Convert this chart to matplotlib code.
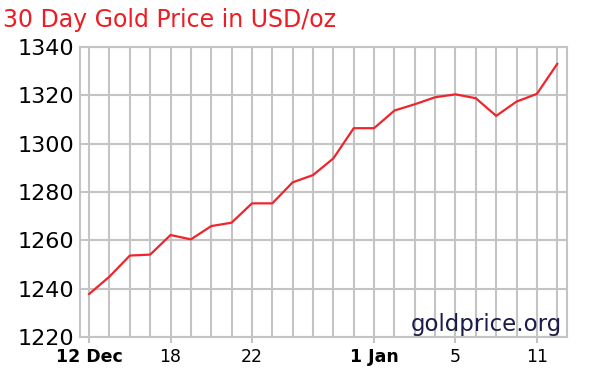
import matplotlib
matplotlib.use("Agg")
import matplotlib.pyplot as plt

# daily closing price, one point per trading day
prices = [1237.8, 1245.0, 1253.7, 1254.1, 1262.2, 1260.4, 1265.9, 1267.3,
          1275.3, 1275.3, 1284.0, 1287.0, 1293.9, 1306.4, 1306.4, 1313.7,
          1316.3, 1319.2, 1320.4, 1318.8, 1311.5, 1317.4, 1320.6, 1333.0]
label_idx = [0, 4, 8, 14, 18, 22]
label_txt = ["12 Dec", "18", "22", "1 Jan", "5", "11"]
bold_labels = ["12 Dec", "1 Jan"]
y_ticks = [1220, 1240, 1260, 1280, 1300, 1320, 1340]

fig = plt.figure(figsize=(6, 3.75), dpi=100)
ax = fig.add_axes([0.1333, 0.1013, 0.8117, 0.7734])

days = list(range(len(prices)))
grid_c = "#c4c4c4"

ax.set_xticks(days, minor=True)
ax.set_xticks(label_idx)
ax.set_xticklabels(label_txt, fontsize=12.5)
for t in ax.get_xticklabels():
    if t.get_text() in bold_labels:
        t.set_fontweight("bold")
ax.set_yticks(y_ticks)
ax.set_yticklabels([str(v) for v in y_ticks], fontsize=16)

ax.grid(True, which="both", axis="x", color=grid_c, linewidth=1.5)
ax.grid(True, which="major", axis="y", color=grid_c, linewidth=1.5)
ax.set_axisbelow(True)
ax.tick_params(axis="x", which="minor", length=0)
ax.tick_params(axis="x", which="major", length=4, color=grid_c, width=1.5, pad=4)
ax.tick_params(axis="y", length=0, pad=4)
for s in ax.spines.values():
    s.set_color(grid_c)
    s.set_linewidth(1.5)

ax.plot(days, prices, color="#f0242c", linewidth=1.6)

ax.set_xlim(-0.45, 23.48)
ax.set_ylim(1220, 1340)

ax.text(0.99, 0.005, "goldprice.org", transform=ax.transAxes, ha="right",
        va="bottom", fontsize=16.5, color="#1c1c4c")

fig.text(0.005, 0.98, "30 Day Gold Price in USD/oz", ha="left", va="top",
         fontsize=17, color="#ee1c25")

fig.savefig("out.png", dpi=100)
